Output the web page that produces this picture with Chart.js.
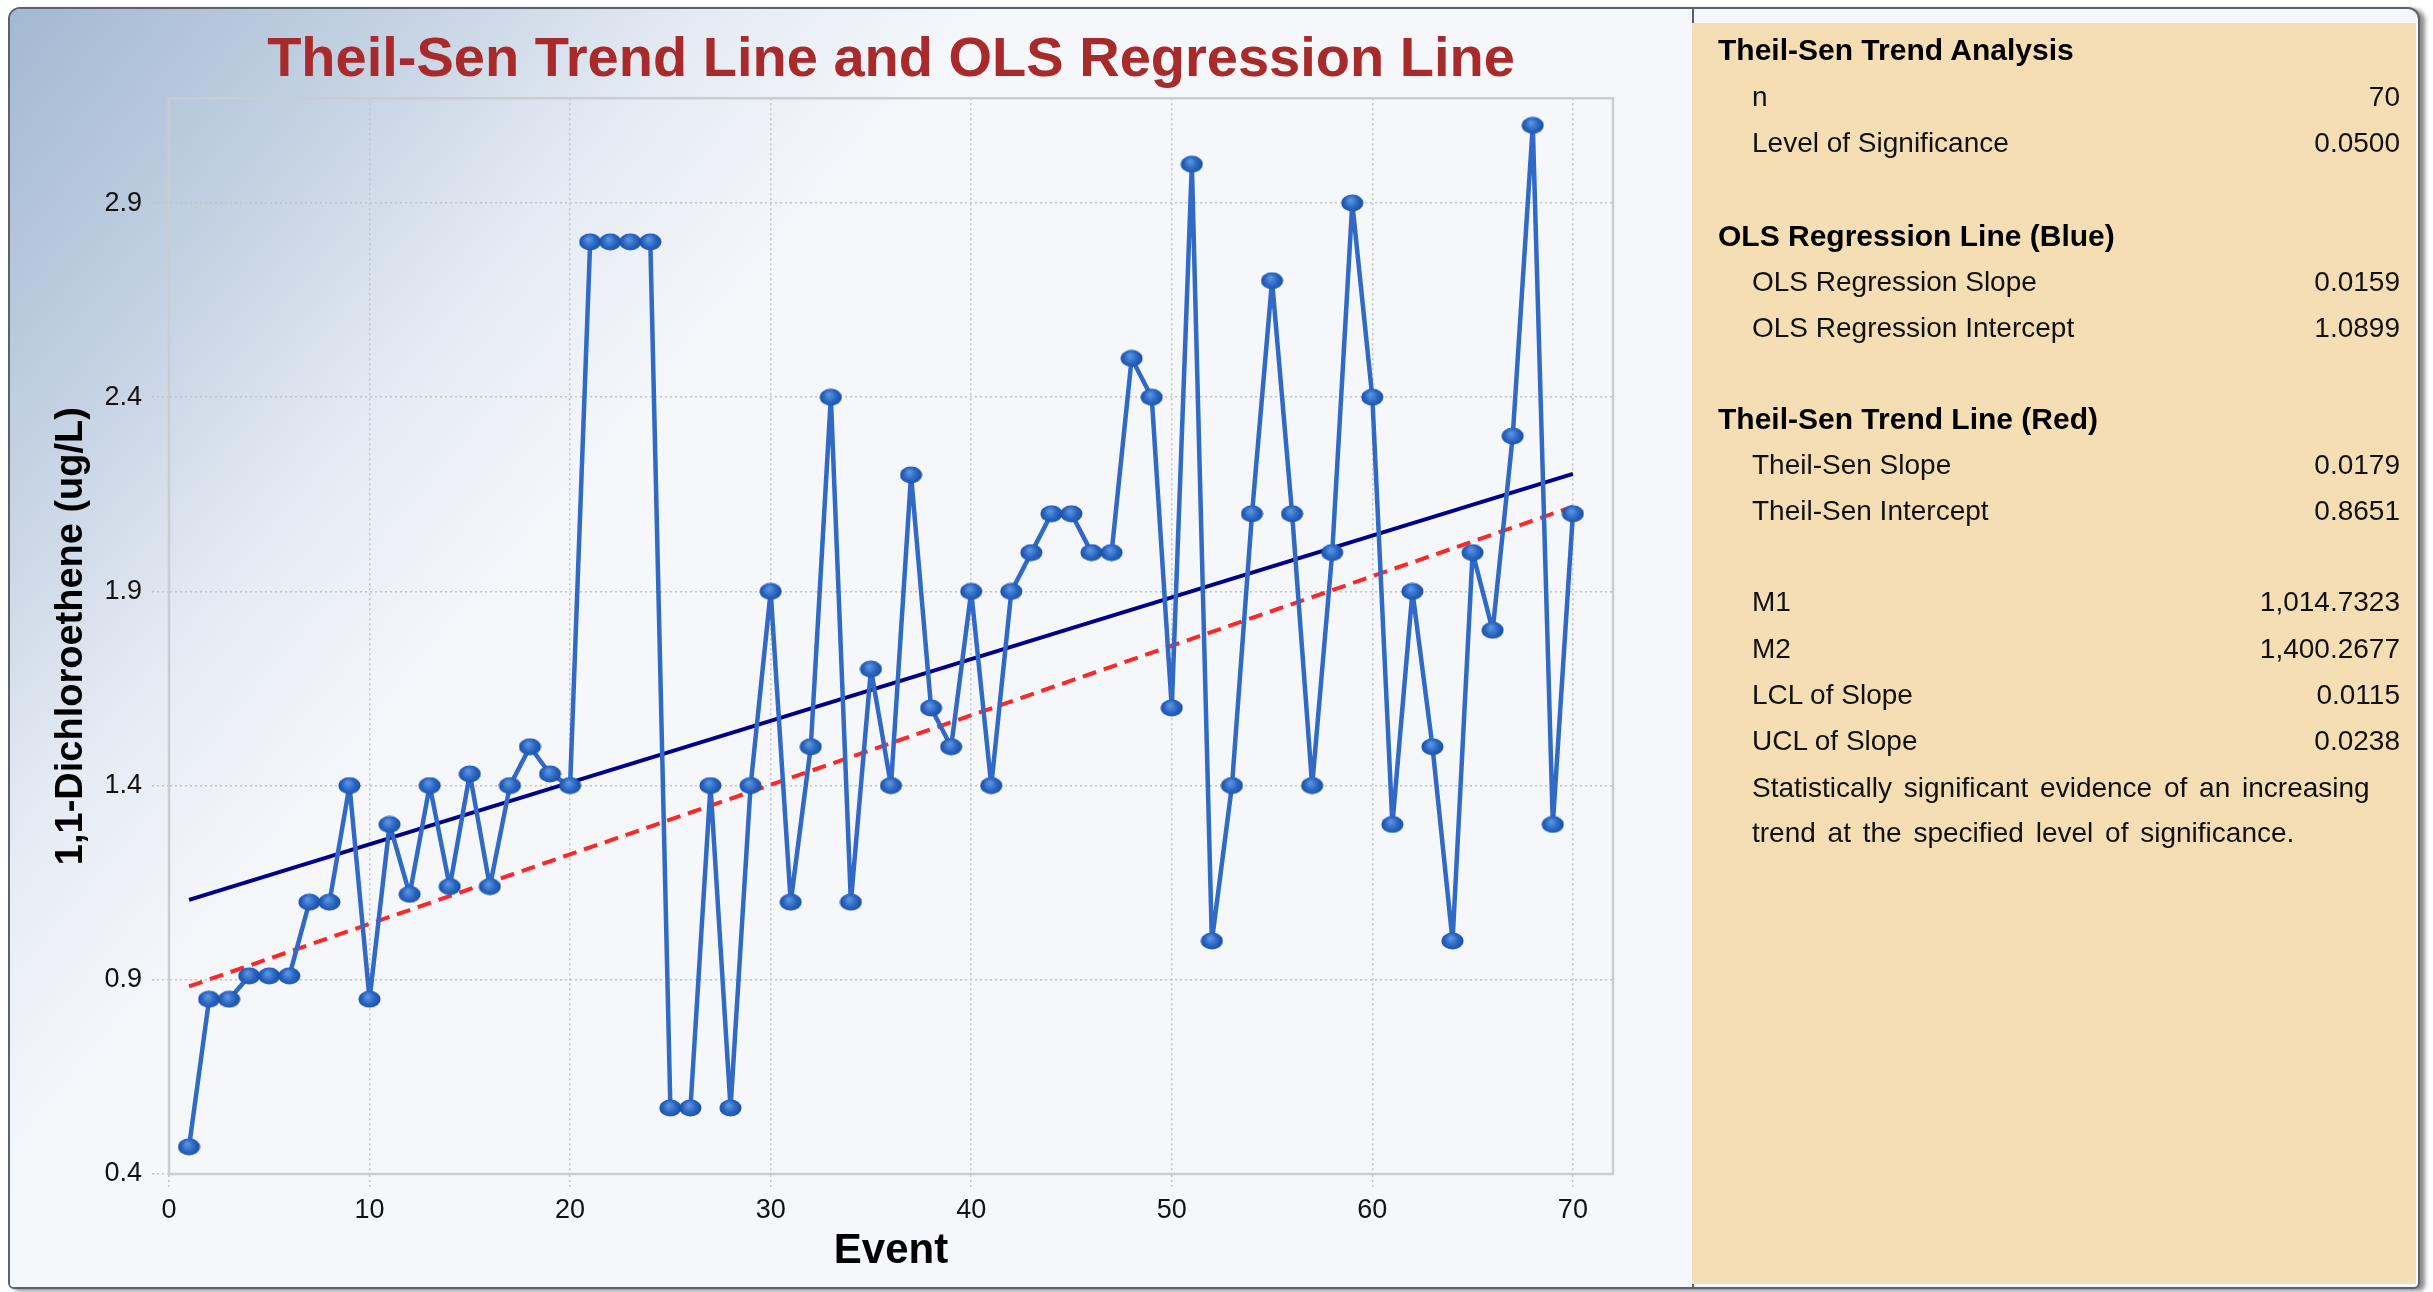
<!DOCTYPE html>
<html>
<head>
<meta charset="utf-8">
<script src="https://cdn.jsdelivr.net/npm/chart.js@4.4.1/dist/chart.umd.min.js"></script>
<style>
html,body{margin:0;padding:0;background:#ffffff;}
body{width:2433px;height:1292px;position:relative;overflow:hidden;font-family:"Liberation Sans",Arial,sans-serif;}
#frame{position:absolute;left:8px;top:7px;width:2408px;height:1278px;border:2px solid #59636d;border-radius:12px 12px 6px 6px;background:#f5f7fb;box-shadow:5px 2px 4px rgba(0,0,0,0.45);overflow:hidden;}
#leftbg{position:absolute;left:0;top:0;width:1682px;height:1278px;background:linear-gradient(130deg,#a3b8d2 0%,#c3d1e2 14%,#e6ecf4 26%,#f5f7fb 36%,#f5f7fb 100%);}
#divider{position:absolute;left:1682px;top:0;width:2px;height:1278px;background:#59636d;}
#tan{position:absolute;left:1682px;top:14px;width:724px;height:1261px;background:#f5deb3;}
#chart{position:absolute;left:0;top:0;z-index:2;}
#panel{position:absolute;left:0;top:0;width:2433px;height:1292px;z-index:3;pointer-events:none;}
.row{position:absolute;height:40px;line-height:40px;font-size:28px;color:#111;white-space:nowrap;}
.head{font-weight:bold;font-size:30px;color:#000;}
.val{text-align:right;}
.wide{word-spacing:4px;}
</style>
</head>
<body>
<div id="frame">
  <div id="leftbg"></div>
  <div id="divider"></div>
  <div id="tan"></div>
</div>
<canvas id="chart" width="1692" height="1292"></canvas>
<div id="panel"></div>
<script>
// ---------------- data ----------------
const events = [1,2,3,4,5,6,7,8,9,10,11,12,13,14,15,16,17,18,19,20,
  21,22,23,24,25,26,27,28,29,30,31,32,33,34,35,36,37,38,39,40,
  41,42,43,44,45,46,47,48,49,50,51,52,53,54,55,56,57,58,59,60,
  61,62,63,64,65,66,67,68,69,70];
const concentrations = [0.47,0.85,0.85,0.91,0.91,0.91,1.1,1.1,1.4,0.85,
  1.3,1.12,1.4,1.14,1.43,1.14,1.4,1.5,1.43,1.4,
  2.8,2.8,2.8,2.8,0.57,0.57,1.4,0.57,1.4,1.9,
  1.1,1.5,2.4,1.1,1.7,1.4,2.2,1.6,1.5,1.9,
  1.4,1.9,2.0,2.1,2.1,2.0,2.0,2.5,2.4,1.6,
  3.0,1.0,1.4,2.1,2.7,2.1,1.4,2.0,2.9,2.4,
  1.3,1.9,1.5,1.0,2.0,1.8,2.3,3.1,1.3,2.1];
const xTickValues = [0,10,20,30,40,50,60,70];
const xTickLabels = ['0','10','20','30','40','50','60','70'];
const yTickValues = [0.4,0.9,1.4,1.9,2.4,2.9];
const yTickLabels = ['0.4','0.9','1.4','1.9','2.4','2.9'];

const sampleSize = 70;
const significanceLevel = 0.05;
const olsSlope = 0.0159;
const olsIntercept = 1.0899;
const tsSlope = 0.0179;
const tsIntercept = 0.8651;
const m1 = 1014.7323;
const m2 = 1400.2677;
const lclSlope = 0.0115;
const uclSlope = 0.0238;
const conclusionLines = ['Statistically significant evidence of an increasing',
  'trend at the specified level of significance.'];

const chartTitle = 'Theil-Sen Trend Line and OLS Regression Line';
const xTitle = 'Event';
const yTitle = '1,1-Dichloroethene (ug/L)';

// ---------------- stats panel ----------------
const f4 = v => v.toLocaleString('en-US',{minimumFractionDigits:4,maximumFractionDigits:4});
const panelRows = [
  {t:'Theil-Sen Trend Analysis', h:true},
  {t:'n', v:String(sampleSize)},
  {t:'Level of Significance', v:f4(significanceLevel)},
  {t:'OLS Regression Line (Blue)', h:true},
  {t:'OLS Regression Slope', v:f4(olsSlope)},
  {t:'OLS Regression Intercept', v:f4(olsIntercept)},
  {t:'Theil-Sen Trend Line (Red)', h:true},
  {t:'Theil-Sen Slope', v:f4(tsSlope)},
  {t:'Theil-Sen Intercept', v:f4(tsIntercept)},
  {t:'M1', v:f4(m1)},
  {t:'M2', v:f4(m2)},
  {t:'LCL of Slope', v:f4(lclSlope)},
  {t:'UCL of Slope', v:f4(uclSlope)},
  {t:conclusionLines[0], w:true},
  {t:conclusionLines[1], w:true}
];
const rowCenters = [50,97,143,236,282,328,419,465,511,602,649,695,741,788,833];
const panel = document.getElementById('panel');
panelRows.forEach((r,i)=>{
  const top = rowCenters[i]-20;
  const d = document.createElement('div');
  d.className = 'row' + (r.h?' head':'') + (r.w?' wide':'');
  d.style.top = top+'px';
  d.style.left = (r.h?1718:1752)+'px';
  d.textContent = r.t;
  panel.appendChild(d);
  if (r.v !== undefined) {
    const v = document.createElement('div');
    v.className = 'row val';
    v.style.top = top+'px';
    v.style.left = '1752px';
    v.style.width = '648px';
    v.textContent = r.v;
    panel.appendChild(v);
  }
});

// ---------------- chart ----------------
function makeMarker(w,h){
  const c=document.createElement('canvas'); c.width=w; c.height=h;
  const g=c.getContext('2d');
  const grd=g.createRadialGradient(w*0.42,h*0.35,1,w/2,h/2,w/2);
  grd.addColorStop(0,'#5a92df'); grd.addColorStop(0.55,'#2663c0'); grd.addColorStop(1,'#1a4c9c');
  g.fillStyle=grd; g.beginPath(); g.ellipse(w/2,h/2,w/2-0.5,h/2-0.5,0,0,Math.PI*2); g.fill();
  return c;
}
const marker = makeMarker(23,18);
const firstEvent = events[0], lastEvent = events[events.length-1];

const framePlugin = {id:'plotFrame', beforeDatasetsDraw(chart){
  const {ctx, chartArea:a} = chart;
  ctx.save(); ctx.strokeStyle='#c9cdd2'; ctx.lineWidth=2.5;
  ctx.strokeRect(a.left,a.top,a.right-a.left,a.bottom-a.top); ctx.restore();
}};

const gridStyle = {color:'#c0c4c9', lineWidth:1.5, tickColor:'#c0c4c9', tickWidth:1.5, tickBorderDash:[2,3]};
const tickFont = {family:'Liberation Sans', size:27};

new Chart(document.getElementById('chart'), {
  type:'line',
  data:{datasets:[
    {label:'1,1-Dichloroethene', data:events.map((e,i)=>({x:e,y:concentrations[i]})),
     borderColor:'#3169c6', borderWidth:4.5, borderJoinStyle:'round', pointStyle:marker, pointRadius:10, pointHoverRadius:10,
     tension:0, fill:false},
    {label:'OLS Regression Line', data:[{x:firstEvent,y:olsIntercept+olsSlope*firstEvent},{x:lastEvent,y:olsIntercept+olsSlope*lastEvent}],
     borderColor:'#00008b', borderWidth:4, pointRadius:0, fill:false},
    {label:'Theil-Sen Trend Line', data:[{x:firstEvent,y:tsIntercept+tsSlope*firstEvent},{x:lastEvent,y:tsIntercept+tsSlope*lastEvent}],
     borderColor:'#ff2626', borderWidth:4, borderDash:[14,8], pointRadius:0, fill:false}
  ]},
  options:{
    responsive:false, animation:false, events:[],
    layout:{padding:{left:0,right:79,top:0,bottom:0}},
    plugins:{
      legend:{display:false}, tooltip:{enabled:false},
      title:{display:true, text:chartTitle, color:'#a82a2a', fullSize:false,
        font:{family:'Liberation Sans', size:56, weight:'bold'}, padding:{top:27,bottom:4}}
    },
    scales:{
      x:{type:'linear', min:0, max:72,
        afterBuildTicks:s=>{s.ticks=xTickValues.map(v=>({value:v}));},
        afterFit:s=>{s.height=118;},
        ticks:{color:'#111', font:tickFont, padding:4, maxRotation:0, autoSkip:false,
          callback:(v,i)=>xTickLabels[i]},
        grid:Object.assign({tickLength:16}, gridStyle),
        border:{display:true, color:'#c9cdd2', width:2, dash:[2,3]},
        title:{display:true, text:xTitle, color:'#000',
          font:{family:'Liberation Sans', size:42, weight:'bold'}, padding:{top:0,bottom:15}}
      },
      y:{type:'linear', min:0.4, max:3.17,
        afterBuildTicks:s=>{s.ticks=yTickValues.map(v=>({value:v}));},
        afterFit:s=>{s.width=169;},
        ticks:{color:'#111', font:tickFont, padding:10, autoSkip:false,
          callback:(v,i)=>yTickLabels[i]},
        grid:Object.assign({tickLength:17}, gridStyle),
        border:{display:true, color:'#c9cdd2', width:2, dash:[2,3]},
        title:{display:true, text:yTitle, color:'#000',
          font:{family:'Liberation Sans', size:38, weight:'bold'}, padding:{top:49,bottom:0}}
      }
    }
  },
  plugins:[framePlugin]
});
</script>
</body>
</html>
